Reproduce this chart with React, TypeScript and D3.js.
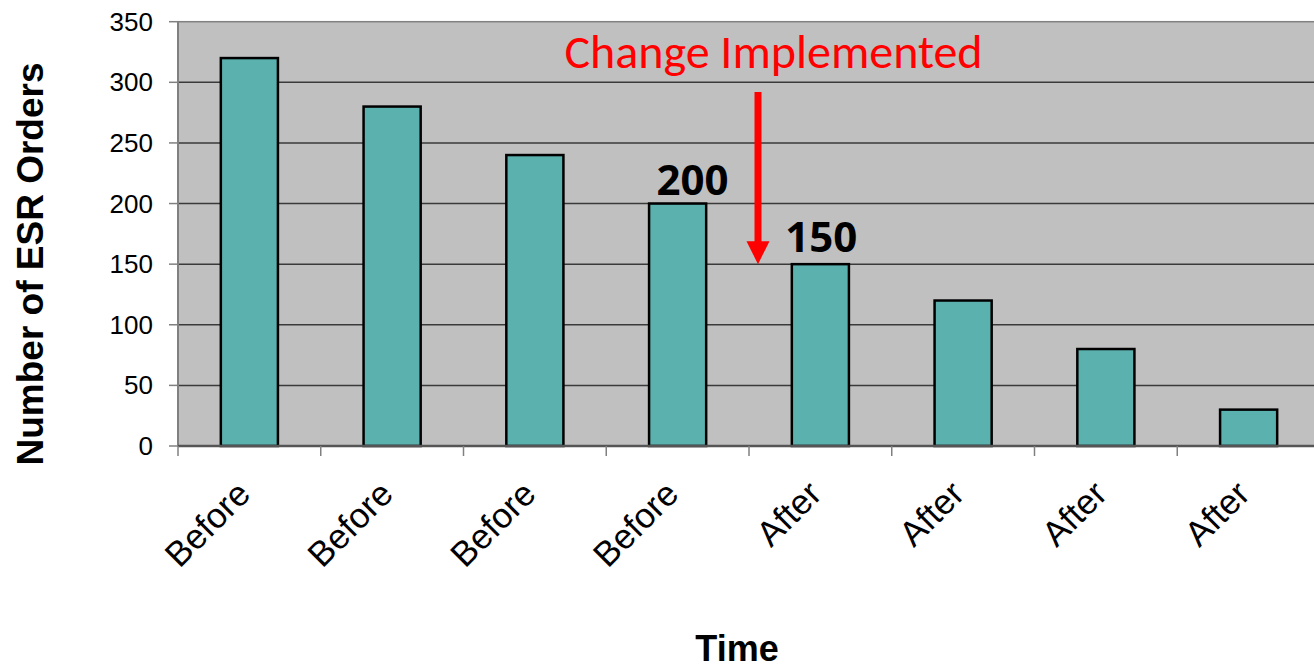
import React from "react";
import * as d3 from "d3";

const categories = ["Before", "Before", "Before", "Before", "After", "After", "After", "After"];
const values = [320, 280, 240, 200, 150, 120, 80, 30];
const yTicks = [0, 50, 100, 150, 200, 250, 300, 350];
const annotatedIdx = [3, 4];
const annotationText = "Change Implemented";
const arrowFrom = 292;
const arrowTo = 150;

const W = 1314;
const H = 669;
const left = 178;
const right = 1320;
const top = 21.7;
const bottom = 446;

export default function App() {
  const ids = categories.map((_, i) => String(i));
  const x = d3.scaleBand<string>().domain(ids).range([left, right]).paddingInner(0.6).paddingOuter(0.3);
  const step = (right - left) / categories.length;
  const y = d3.scaleLinear().domain([0, 350]).range([bottom, top]);
  const center = (i: number) => (x(String(i)) as number) + x.bandwidth() / 2;
  const arrowX = left + step * 4 + 9;
  const tip = y(arrowTo);
  const arrowTop = y(arrowFrom);

  return (
    <div style={{ position: "fixed", left: 0, top: 0 }}>
      <svg width={W} height={H} style={{ display: "block", background: "#fff" }}>
        <rect x={left} y={top} width={right - left} height={bottom - top} fill="#C0C0C0" stroke="#808080" strokeWidth={1.5} />
        {yTicks.filter((t) => t > 0 && t < 350).map((t) => (
          <line key={t} x1={left} x2={right} y1={y(t)} y2={y(t)} stroke="#3a3a3a" strokeWidth={1.5} />
        ))}
        {/* y axis */}
        <line x1={left} x2={left} y1={top} y2={bottom} stroke="#808080" strokeWidth={2} />
        {yTicks.map((t) => (
          <g key={t}>
            <line x1={left - 9} x2={left} y1={y(t)} y2={y(t)} stroke="#808080" strokeWidth={1.5} />
            <text x={153} y={y(t)} dy="0.35em" textAnchor="end" fontFamily="Liberation Sans, Arial, sans-serif" fontSize={26} fill="#000">
              {t}
            </text>
          </g>
        ))}
        {/* bars */}
        {values.map((v, i) => (
          <rect key={i} x={x(String(i))} y={y(v)} width={x.bandwidth()} height={bottom - y(v)} fill="#5AB1AE" stroke="#000" strokeWidth={2.5} />
        ))}
        {/* x axis */}
        <line x1={left} x2={right} y1={bottom} y2={bottom} stroke="#555" strokeWidth={2.5} />
        {d3.range(categories.length + 1).map((k) => (
          <line key={k} x1={left + k * step} x2={left + k * step} y1={bottom} y2={bottom + 10} stroke="#808080" strokeWidth={1.5} />
        ))}
        {categories.map((c, i) => (
          <text
            key={i}
            transform={`translate(${center(i) + 3},${bottom + 50}) rotate(-45)`}
            textAnchor="end"
            fontFamily="Liberation Sans, Arial, sans-serif"
            fontSize={35}
            fill="#000"
          >
            {c}
          </text>
        ))}
        {/* value labels */}
        <text x={center(annotatedIdx[0]) + 15} y={y(values[annotatedIdx[0]]) - 9} textAnchor="middle" fontFamily="Open Sans, sans-serif" fontWeight="bold" fontSize={42} fill="#000">
          {values[annotatedIdx[0]]}
        </text>
        <text x={center(annotatedIdx[1]) + 1} y={y(values[annotatedIdx[1]]) - 12.5} textAnchor="middle" fontFamily="Open Sans, sans-serif" fontWeight="bold" fontSize={42} fill="#000">
          {values[annotatedIdx[1]]}
        </text>
        {/* annotation */}
        <text x={773.5} y={68} textAnchor="middle" fontFamily="Carlito, Calibri, Open Sans, sans-serif" fontSize={48} fill="#FF0000">
          {annotationText}
        </text>
        <line x1={arrowX} x2={arrowX} y1={arrowTop} y2={tip - 20} stroke="#FF0000" strokeWidth={7} />
        <path d={`M${arrowX - 11.5},${tip - 23} L${arrowX + 11.5},${tip - 23} L${arrowX},${tip} Z`} fill="#FF0000" />
        {/* axis titles */}
        <text transform={`translate(43,${264}) rotate(-90)`} textAnchor="middle" fontFamily="Liberation Sans, Arial, sans-serif" fontWeight="bold" fontSize={37} fill="#000">
          Number of ESR Orders
        </text>
        <text x={737} y={661} textAnchor="middle" fontFamily="Liberation Sans, Arial, sans-serif" fontWeight="bold" fontSize={36} fill="#000">
          Time
        </text>
      </svg>
    </div>
  );
}
